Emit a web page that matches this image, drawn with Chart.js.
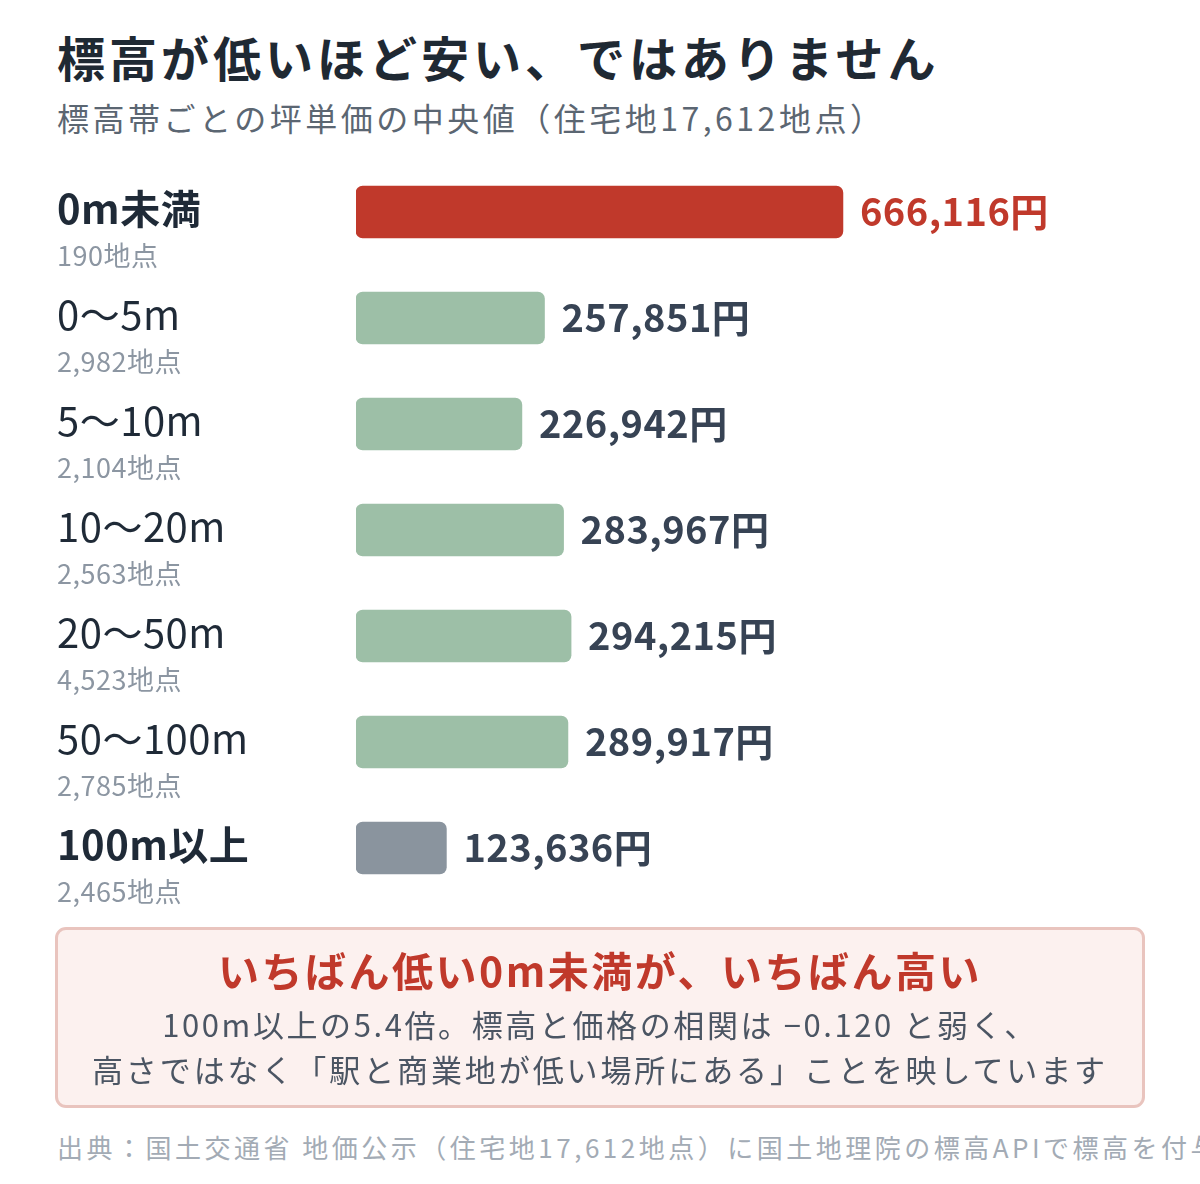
<!DOCTYPE html>
<html lang="ja">
<head>
<meta charset="utf-8">
<script src="https://cdn.jsdelivr.net/npm/chart.js@4"></script>
<style>
  html, body { margin: 0; padding: 0; background: #fff; }
  body { width: 1200px; height: 1184px; position: relative; overflow: hidden;
         font-family: "Noto Sans CJK JP", "Noto Sans", sans-serif; }
  .t { position: absolute; white-space: nowrap; }
  #title { left: 57px; top: 26px; line-height: 60px; font-size: 48px; font-weight: 700; color: #1f2933; letter-spacing: 4px; }
  #sub { left: 57px; top: 97px; line-height: 40px; font-size: 32px; color: #5b6672; letter-spacing: 3.5px; }
  #wrap { position: absolute; left: 0; top: 159px; width: 1200px; height: 772px; }
  #box { position: absolute; left: 55px; top: 927px; width: 1090px; height: 181px; box-sizing: border-box;
         border: 3px solid #e9c4be; border-radius: 11px; background: #fcf1ef; }
  .c { left: 0; width: 1200px; text-align: center; }
  #head { top: 944px; line-height: 50px; font-size: 41px; font-weight: 700; color: #c0392b; letter-spacing: 2.5px; }
  #l1 { top: 1004px; line-height: 40px; font-size: 31px; color: #4b5563; letter-spacing: 2.6px; }
  #l2 { top: 1049px; line-height: 40px; font-size: 31px; color: #4b5563; letter-spacing: 2.9px; }
  #src { left: 57px; top: 1127px; line-height: 40px; font-size: 26px; color: #a3abb5; letter-spacing: 3.5px; }
</style>
</head>
<body>
<div class="t" id="title">標高が低いほど安い、ではありません</div>
<div class="t" id="sub">標高帯ごとの坪単価の中央値（住宅地17,612地点）</div>
<div id="wrap"><canvas id="chart" width="1200" height="772"></canvas></div>
<div id="box"></div>
<div class="t c" id="head">いちばん低い0m未満が、いちばん高い</div>
<div class="t c" id="l1">100m以上の5.4倍。標高と価格の相関は −0.120 と弱く、</div>
<div class="t c" id="l2">高さではなく「駅と商業地が低い場所にある」ことを映しています</div>
<div class="t" id="src">出典：国土交通省 地価公示（住宅地17,612地点）に国土地理院の標高APIで標高を付与して集計</div>
<script>
// 標高帯ごとの坪単価（中央値）
var bands = ["0m未満", "0～5m", "5～10m", "10～20m", "20～50m", "50～100m", "100m以上"];
var counts = [190, 2982, 2104, 2563, 4523, 2785, 2465];
var prices = [666116, 257851, 226942, 283967, 294215, 289917, 123636];

var barColors = bands.map(function (b, i) {
  if (i == 0) return "#c0392b";
  if (i == bands.length - 1) return "#8a949e";
  return "#9dbfa7";
});

function fmt(n) { return n.toLocaleString("en-US"); }

// 左のラベルと右の金額
var labelPlugin = {
  id: "rowLabels",
  afterDraw: function (chart) {
    var ctx = chart.ctx;
    var xs = chart.scales.x, ys = chart.scales.y;
    var font = '"Noto Sans CJK JP", sans-serif';
    ctx.save();
    ctx.textBaseline = "middle";
    bands.forEach(function (b, i) {
      var y = ys.getPixelForValue(i);
      var strong = (i == 0 || i == bands.length - 1);
      ctx.textAlign = "left";
      ctx.letterSpacing = "0.5px";
      ctx.fillStyle = "#1f2a37";
      ctx.font = (strong ? "700 " : "400 ") + "40px " + font;
      ctx.fillText(b, 57, y - 3);
      ctx.fillStyle = "#8c96a2";
      ctx.font = "400 27px " + font;
      ctx.fillText(fmt(counts[i]) + "地点", 57, y + 44);
      ctx.fillStyle = i == 0 ? "#c0392b" : "#374354";
      ctx.font = "700 38px " + font;
      ctx.fillText(fmt(prices[i]) + "円", xs.getPixelForValue(prices[i]) + 17, y);
    });
    ctx.restore();
  }
};

new Chart(document.getElementById("chart"), {
  type: "bar",
  data: {
    labels: bands,
    datasets: [{
      data: prices,
      backgroundColor: barColors,
      borderRadius: 7,
      borderSkipped: false,
      barThickness: 52
    }]
  },
  options: {
    indexAxis: "y",
    responsive: false,
    animation: false,
    layout: { padding: { left: 356, right: 113, top: 0, bottom: 30 } },
    scales: {
      x: { display: false, min: 0, max: 1000000 },
      y: { display: false }
    },
    plugins: { legend: { display: false }, tooltip: { enabled: false } }
  },
  plugins: [labelPlugin]
});
</script>
</body>
</html>
